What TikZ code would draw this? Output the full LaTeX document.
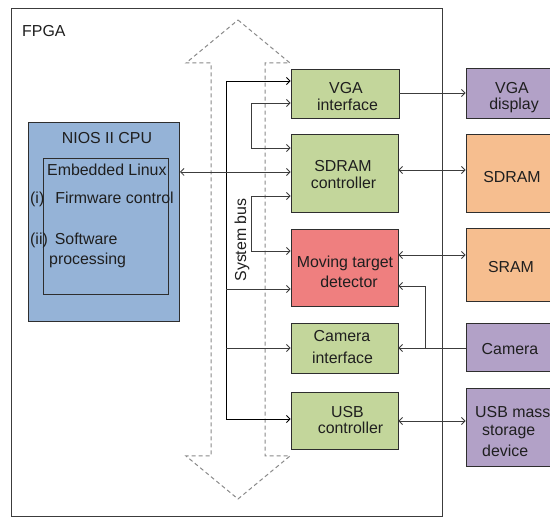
\documentclass[tikz,border=0pt]{standalone}
\usepackage{fontspec}
\setmainfont{Liberation Sans}
\usetikzlibrary{arrows.meta}
\definecolor{ink}{HTML}{1F1F1F}
\definecolor{edge}{HTML}{2E2E2E}
\definecolor{wire}{HTML}{3C3C3C}
\definecolor{dashgray}{HTML}{8A8A8A}
\definecolor{hwgreen}{HTML}{C3D69B}
\definecolor{hwred}{HTML}{EF7F7F}
\definecolor{memorange}{HTML}{F6BE8F}
\definecolor{extpurple}{HTML}{B2A1C7}
\definecolor{cpublue}{HTML}{95B3D7}
\begin{document}
\begin{tikzpicture}[x=1pt,y=-1pt,
  >={Straight Barb[length=3.5pt,width=7pt]},
  txt/.style={font=\fontsize{15.9}{17.5}\selectfont, text=ink, inner sep=0pt},
  blk/.style={draw=edge, line width=0.9pt, inner sep=0pt},
  core/.style={blk, fill=hwgreen, minimum width=107pt},
  extbox/.style={blk, minimum width=94pt},
  conn/.style={draw=wire, line width=0.8pt},
  busline/.style={draw=black, line width=0.9pt},
  busarrow/.style={draw=dashgray, line width=1pt, dash pattern=on 4pt off 3pt}]

\useasboundingbox (0,0) rectangle (550,518);
\clip (0,0) rectangle (550,518);
\fill[white] (0,0) rectangle (550,518);

% FPGA frame
\node[blk, draw=wire, minimum width=431pt, minimum height=508pt] (fpga) at (226.5,262) {};
\node[txt, anchor=base west] (fpgalbl) at (22,37) {FPGA};

% hollow double-headed system bus arrow
\draw[busarrow] (238,20) -- (290,63) -- (265,63) -- (265,456) -- (290,456)
  -- (238,499) -- (186,456) -- (211,456) -- (211,63) -- (186,63) -- cycle;
\node[txt, rotate=90] (buslbl) at (242,240) {System bus};

% processor
\node[blk, fill=cpublue, minimum width=151pt, minimum height=199pt] (cpu) at (103.5,221.5) {};
\node[txt, anchor=base] (cpulbl) at (107,144) {NIOS II CPU};
\node[blk, fill=cpublue, minimum width=125pt, minimum height=136pt] (linux) at (105.5,226) {};
\node[txt, anchor=base west] (lxlbl) at (47,176) {Embedded Linux};
\node[txt, anchor=base west] (fwlbl) at (30,204) {(i)\hspace{11pt}Firmware control};
\node[txt, anchor=base west] (swlbl) at (30,245) {(ii)\hspace{7pt}Software};
\node[txt, anchor=base west] (prlbl) at (49,265) {processing};

% on-chip blocks
\node[core, minimum width=108pt, minimum height=49pt] (vgai) at (345,93.5) {};
\node[txt, anchor=base] (vgai1) at (346,94) {VGA};
\node[txt, anchor=base] (vgai2) at (347.5,111) {interface};

\node[core, minimum height=78pt] (sdc) at (344.5,173) {};
\node[txt, anchor=base] (sdc1) at (343,172) {SDRAM};
\node[txt, anchor=base] (sdc2) at (343.5,189) {controller};

\node[core, fill=hwred, minimum height=77pt] (mtd) at (344.5,267.5) {};
\node[txt, anchor=base] (mtd1) at (345,268) {Moving target};
\node[txt, anchor=base] (mtd2) at (349,288) {detector};

\node[core, minimum height=50pt] (cami) at (344.5,348) {};
\node[txt, anchor=base] (cami1) at (342,342) {Camera};
\node[txt, anchor=base] (cami2) at (342.5,364) {interface};

\node[core, minimum height=57pt] (usbc) at (344.5,420.5) {};
\node[txt, anchor=base] (usbc1) at (347.5,418) {USB};
\node[txt, anchor=base] (usbc2) at (350.5,434) {controller};

% external devices
\node[extbox, fill=extpurple, minimum height=50pt] (vgad) at (513,93) {};
\node[txt, anchor=base] (vgad1) at (512,94) {VGA};
\node[txt, anchor=base] (vgad2) at (514,110) {display};

\node[extbox, fill=memorange, minimum height=78pt] (sdram) at (513,173) {};
\node[txt, anchor=base] (sdram1) at (512,183) {SDRAM};

\node[extbox, fill=memorange, minimum height=73pt] (sram) at (513,264.5) {};
\node[txt, anchor=base] (sram1) at (511,273) {SRAM};

\node[extbox, fill=extpurple, minimum height=48pt] (cam) at (513,347) {};
\node[txt, anchor=base] (cam1) at (510,355) {Camera};

\node[extbox, fill=extpurple, minimum height=78pt] (usbm) at (513,427) {};
\node[txt, anchor=base west] (usbm1) at (475,418) {USB mass};
\node[txt, anchor=base west] (usbm2) at (482,436) {storage};
\node[txt, anchor=base west] (usbm3) at (482,457) {device};

% system bus backbone and its taps
\coordinate (bustop) at (226,81);
\coordinate (busbot) at (226,419);
\draw[busline] (bustop) -- (busbot);
\draw[busline, ->] (bustop) -- (vgai.west |- bustop);
\draw[conn, ->] (226,289) -- (mtd.west |- 0,289);
\draw[conn, ->] (226,348) -- (cami.west |- 0,348);
\draw[busline, ->] (busbot) -- (usbc.west |- busbot);

% links between on-chip blocks
\draw[conn, <->] (vgai.west |- 0,103) -- (251,103) -- (251,148) -- (sdc.west |- 0,148);
\draw[conn, <->] (sdc.west |- 0,196) -- (251,196) -- (251,251) -- (mtd.west |- 0,251);
\coordinate (cpuport) at (180,172);
\draw[conn, <->] (cpuport) -- (sdc.west |- cpuport);

% links to external devices
\draw[conn, ->] (vgai.east |- 0,93) -- (vgad.west |- 0,93);
\draw[conn, <->] (sdc.east |- 0,170) -- (sdram.west |- 0,170);
\draw[conn, <->] (mtd.east |- 0,255) -- (sram.west |- 0,255);
\coordinate (camsplit) at (425,348);
\draw[conn, ->] (cam.west |- camsplit) -- (cami.east |- camsplit);
\draw[conn, ->] (camsplit) -- (425,286) -- (mtd.east |- 0,286);
\draw[conn, <->] (usbc.east |- 0,421) -- (usbm.west |- 0,421);
\end{tikzpicture}
\end{document}
